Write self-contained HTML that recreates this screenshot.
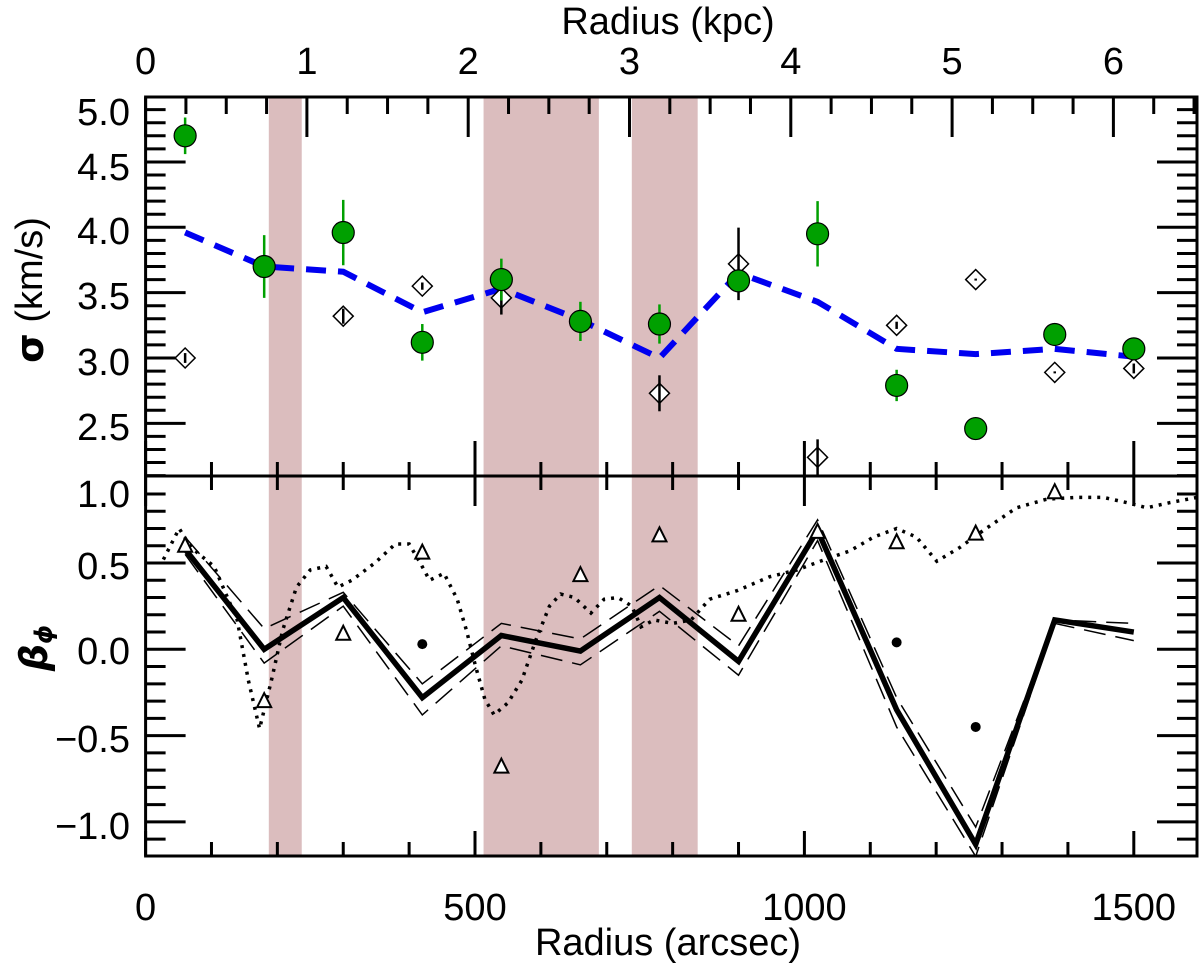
<!DOCTYPE html>
<html><head><meta charset="utf-8"><style>
html,body{margin:0;padding:0;background:#fff;}
svg{display:block;font-family:"Liberation Sans",sans-serif;}
</style></head><body>
<svg id="chart" width="1200" height="973" viewBox="0 0 1200 973" xmlns="http://www.w3.org/2000/svg"></svg>
<script>
const radii = [60,180,300,420,540,660,780,900,1020,1140,1260,1380,1500];
const sigmaGreen = [4.70,3.70,3.96,3.12,3.60,3.28,3.26,3.59,3.95,2.79,2.46,3.18,3.07];
const sigmaGreenErr = [0.14,0.24,0.25,0.14,0.16,0.15,0.15,0.05,0.25,0.12,0.02,0.03,0.05];
const sigmaDiamond = [3.00,3.50,3.32,3.55,3.46,3.30,2.73,3.72,2.24,3.25,3.60,2.89,2.92];
const sigmaDiamondErr = [0.03,0.0,0.05,0.02,0.12,0.0,0.13,0.27,0.13,0.02,0.0,0.0,0.03];
const diamondShown = [1,0,1,1,1,0,1,1,1,1,1,1,1];
const sigmaModel = [3.96,3.70,3.66,3.35,3.53,3.29,3.00,3.65,3.43,3.07,3.03,3.07,3.01];
const betaSolid = [0.58,0.00,0.30,-0.28,0.08,-0.01,0.30,-0.07,0.69,-0.35,-1.13,0.17,0.10];
const betaUpper = [0.65,0.12,0.33,-0.20,0.15,0.06,0.37,0.02,0.75,-0.28,-1.03,0.17,0.15];
const betaLower = [0.55,-0.08,0.25,-0.38,0.02,-0.09,0.22,-0.15,0.63,-0.45,-1.20,0.15,0.05];
const betaTriangle = [0.60,-0.30,0.09,0.56,-0.68,0.43,0.66,0.20,0.68,0.62,0.67,0.91,null];
const dotRadii = [420,1140,1260];
const betaDots = [0.03,0.04,-0.45];
const dottedR = [27,51,69,104,139,156,173,191,208,229,250,274,292,313,348,379,400,417,431,453,473,487,501,515,529,550,571,592,613,630,651,676,696,717,738,752,772,800,828,856,898,947,989,1031,1069,1105,1140,1170,1201,1236,1272,1322,1368,1413,1454,1489,1520,1555,1596];
const dottedBeta = [0.52,0.70,0.59,0.48,0.17,-0.18,-0.46,-0.18,0.11,0.36,0.46,0.48,0.36,0.40,0.50,0.61,0.61,0.50,0.40,0.44,0.29,0.11,-0.10,-0.29,-0.38,-0.31,-0.18,0.05,0.25,0.32,0.30,0.21,0.29,0.30,0.25,0.13,0.17,0.15,0.17,0.29,0.34,0.42,0.46,0.52,0.57,0.65,0.70,0.65,0.51,0.59,0.69,0.82,0.87,0.88,0.88,0.85,0.82,0.85,0.88];
const bandStart = [187,513,738];
const bandEnd = [237,688,838];
const xTickLabels = [0,500,1000,1500];
const kpcTickLabels = [0,1,2,3,4,5,6];
const sigmaTickLabels = ["5.0","4.5","4.0","3.5","3.0","2.5"];
const betaTickLabels = ["1.0","0.5","0.0","\u22120.5","\u22121.0"];

const svg = document.getElementById('chart');
const NS = 'http://www.w3.org/2000/svg';
const L=145.6, R=1197, T=97, M=476, B=856;
const X = a => L + a*0.6588;
const K = k => L + k*161.3;
const YS = s => 227.3 - (s-4.0)*130.7;
const YB = b => 649.3 - b*172.6;
function mk(tag, attrs, parent){ const e=document.createElementNS(NS,tag); for(const k in attrs) e.setAttribute(k,attrs[k]); (parent||svg).appendChild(e); return e; }

const gB = mk('g',{});


bandStart.forEach((s,i)=>{ const r=mk('rect',{x:X(s),y:T,width:X(bandEnd[i])-X(s),height:B-T,fill:'#dbbdbe'},gB);
 
  });

const gT = mk('g',{stroke:'#000','stroke-width':3});


function ln(x1,y1,x2,y2,p,extra){ return mk('line',Object.assign({x1,y1,x2,y2},extra||{}),p||gT); }
for(let a=0;a<=1590;a+=100){ const maj=a%500===0; const x=X(a);
  ln(x,B,x,B-(maj?25:14)); ln(x,M,x,M+(maj?30:14)); ln(x,M,x,M-(maj?35:14)); }
for(let k=0;k<=6.5;k+=0.25){ const maj=Math.abs(k-Math.round(k))<1e-6; const x=K(k); if(x>R)break; ln(x,T,x,T+(maj?40:17)); }
for(let i=0;i<=29;i++){ const s=2.1+i*0.1; const y=YS(s); if(y<T||y>M)continue; const maj=Math.abs(s*2-Math.round(s*2))<1e-6; const l=maj?40:20; ln(L,y,L+l,y); ln(R,y,R-l,y); }
for(let i=-12;i<=11;i++){ const b=i*0.1; const y=YB(b); if(y<M+2||y>B)continue; const maj=i%5===0; const l=maj?40:20; ln(L,y,L+l,y); ln(R,y,R-l,y); }

const fr = mk('rect',{x:L,y:T,width:R-L,height:B-T,fill:'none',stroke:'#000','stroke-width':3});


const mid = ln(L,M,R,M,svg,{stroke:'#000','stroke-width':3});



function tx(str,x,y,opt){ const t=mk('text',Object.assign({x,y,'font-size':38,'text-anchor':'middle','dominant-baseline':'central',fill:'#000'},opt||{})); t.textContent=str; return t; }
xTickLabels.forEach(v=>{ const t=tx(String(v),X(v),908);   });
kpcTickLabels.forEach(v=>{ const t=tx(String(v),K(v),62);   });
const sigY=[113,168,232,297,363,428];
sigmaTickLabels.forEach((v,i)=>{ const t=tx(v,130,sigY[i],{'text-anchor':'end'});   });
const betY=[495,567,652,740,827];
betaTickLabels.forEach((v,i)=>{ const t=tx(v,130,betY[i],{'text-anchor':'end'});   });
let t1=tx('Radius (arcsec)',668,943);  
let t2=tx('Radius (kpc)',668,22);  
let t3=mk('text',{x:0,y:0,'font-size':38,'text-anchor':'middle','dominant-baseline':'central',transform:'translate(30,290) rotate(-90)'});
t3.innerHTML='<tspan font-weight="bold" font-family="DejaVu Sans">σ</tspan> (km/s)';
 
let t4=mk('text',{x:0,y:0,'font-size':38,'text-anchor':'middle','dominant-baseline':'central',transform:'translate(34,648) rotate(-90)'});
t4.innerHTML='<tspan font-weight="bold" font-style="italic" font-family="DejaVu Sans">β</tspan><tspan font-size="24" dy="10" font-weight="bold" font-style="italic" font-family="DejaVu Sans">ϕ</tspan>';
 

const pm = mk('polyline',{points:radii.map((r,i)=>X(r)+','+YS(sigmaModel[i])).join(' '),fill:'none',stroke:'#0000f0','stroke-width':6,'stroke-dasharray':'20,12'});
 

radii.forEach((r,i)=>{ if(!diamondShown[i])return; const x=X(r), y=YS(sigmaDiamond[i]); const g=mk('g',{});
  
 mk('path',{d:`M${x-10},${y}L${x},${y-10}L${x+10},${y}L${x},${y+10}Z`,fill:'#fff',stroke:'#000','stroke-width':1.5},g);
 const e=sigmaDiamondErr[i]; mk('line',{x1:x,x2:x,y1:YS(sigmaDiamond[i]+e)-1,y2:YS(sigmaDiamond[i]-e)+1,stroke:'#000','stroke-width':2.5},g); });
radii.forEach((r,i)=>{ const x=X(r), y=YS(sigmaGreen[i]); const g=mk('g',{});
  
 const e=sigmaGreenErr[i]; mk('line',{x1:x,x2:x,y1:YS(sigmaGreen[i]+e),y2:YS(sigmaGreen[i]-e),stroke:'#00a000','stroke-width':2.5},g);
 mk('circle',{cx:x,cy:y,r:11,fill:'#00a000',stroke:'#000','stroke-width':1.2},g); });

const clip = mk('clipPath',{id:'cb'}); mk('rect',{x:L,y:M,width:R-L,height:B-M},clip);
const gb = mk('g',{'clip-path':'url(#cb)'});
 
const pd = mk('polyline',{points:dottedR.map((r,i)=>X(r)+','+YB(dottedBeta[i])).join(' '),fill:'none',stroke:'#000','stroke-width':3.5,'stroke-dasharray':'3,6'},gb);
 
[betaUpper,betaLower].forEach((arr,j)=>{ const p=mk('polyline',{points:radii.map((r,i)=>X(r)+','+YB(arr[i])).join(' '),fill:'none',stroke:'#000','stroke-width':1.5,'stroke-dasharray':'22,10'},gb);
   });
const ps = mk('polyline',{points:radii.map((r,i)=>X(r)+','+YB(betaSolid[i])).join(' '),fill:'none',stroke:'#000','stroke-width':5.5,'stroke-linejoin':'miter'},gb);
 
radii.forEach((r,i)=>{ if(betaTriangle[i]===null)return; const x=X(r), y=YB(betaTriangle[i]);
 const p=mk('path',{d:`M${x-7},${y+6}L${x+7},${y+6}L${x},${y-8}Z`,fill:'#fff',stroke:'#000','stroke-width':2},gb);
   });
dotRadii.forEach((r,i)=>{ const c=mk('circle',{cx:X(r),cy:YB(betaDots[i]),r:5,fill:'#000'},gb);
   });
</script>
</body></html>
